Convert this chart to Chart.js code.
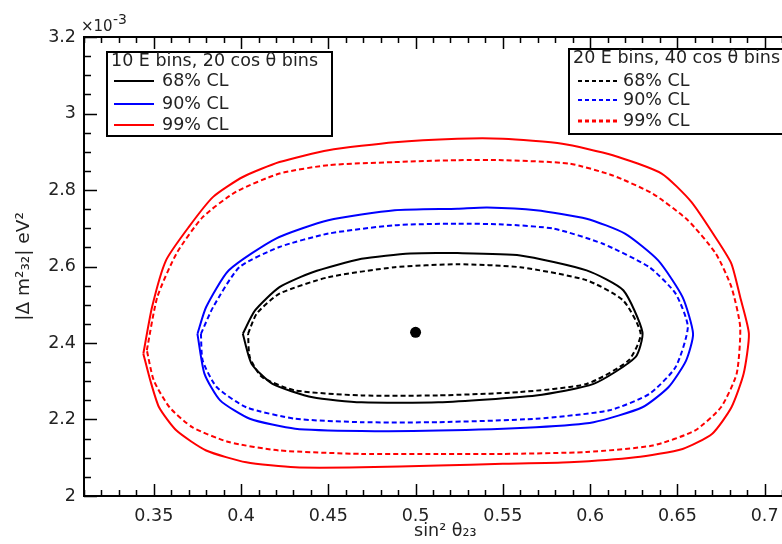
<!DOCTYPE html>
<html>
<head>
<meta charset="utf-8">
<script src="https://cdn.jsdelivr.net/npm/chart.js@4"></script>
<style>
  html, body { margin: 0; padding: 0; background: #fff; overflow: hidden; }
  .wrap { width: 812px; height: 544px; }
</style>
</head>
<body>
<div class="wrap"><canvas class="myChart" width="812" height="544"></canvas></div>
<script>
const clLabels = ["68% CL", "90% CL", "99% CL"];
const clColors = ["#000000", "#0000ff", "#ff0000"];
const binLabels = ["10 E bins, 20 cos θ bins", "20 E bins, 40 cos θ bins"];
const bestFit = [[0.5, 2.428]];

// 10 E bins, 20 cos theta bins (solid lines)
const coarse68 = [
  [0.401, 2.424], [0.408, 2.485], [0.422, 2.546], [0.441, 2.585], [0.469, 2.620],
  [0.497, 2.634], [0.524, 2.635], [0.560, 2.629], [0.598, 2.590], [0.619, 2.538],
  [0.630, 2.428], [0.626, 2.363], [0.602, 2.293], [0.569, 2.263], [0.513, 2.245],
  [0.469, 2.245], [0.441, 2.258], [0.418, 2.293], [0.406, 2.346]
];
const coarse90 = [
  [0.375, 2.424], [0.380, 2.494], [0.393, 2.590], [0.420, 2.673], [0.450, 2.721],
  [0.488, 2.747], [0.524, 2.751], [0.541, 2.754], [0.569, 2.747], [0.598, 2.725],
  [0.620, 2.686], [0.639, 2.616], [0.653, 2.520], [0.659, 2.424], [0.655, 2.354],
  [0.645, 2.285], [0.630, 2.232], [0.602, 2.193], [0.569, 2.180], [0.513, 2.171],
  [0.469, 2.170], [0.431, 2.176], [0.405, 2.202], [0.388, 2.250], [0.379, 2.320]
];
const coarse99 = [
  [0.344, 2.372], [0.349, 2.494], [0.357, 2.616], [0.370, 2.703], [0.384, 2.782],
  [0.401, 2.834], [0.422, 2.873], [0.450, 2.904], [0.488, 2.925], [0.524, 2.934],
  [0.550, 2.934], [0.584, 2.921], [0.613, 2.891], [0.641, 2.843], [0.658, 2.769],
  [0.673, 2.668], [0.681, 2.607], [0.686, 2.520], [0.691, 2.424], [0.688, 2.320],
  [0.681, 2.232], [0.670, 2.163], [0.653, 2.123], [0.626, 2.101], [0.588, 2.088],
  [0.550, 2.084], [0.513, 2.080], [0.469, 2.075], [0.431, 2.075], [0.403, 2.088],
  [0.380, 2.119], [0.363, 2.171], [0.353, 2.232], [0.348, 2.302]
];

// 20 E bins, 40 cos theta bins (dashed lines)
const fine68 = [
  [0.404, 2.424], [0.409, 2.477], [0.422, 2.529], [0.450, 2.572], [0.488, 2.598],
  [0.524, 2.606], [0.560, 2.598], [0.598, 2.564], [0.619, 2.511], [0.629, 2.424],
  [0.622, 2.354], [0.598, 2.293], [0.560, 2.272], [0.513, 2.263], [0.469, 2.263],
  [0.431, 2.276], [0.412, 2.311], [0.405, 2.363]
];
const fine90 = [
  [0.377, 2.424], [0.384, 2.494], [0.399, 2.598], [0.422, 2.651], [0.450, 2.686],
  [0.488, 2.708], [0.524, 2.712], [0.550, 2.710], [0.579, 2.699], [0.607, 2.660],
  [0.634, 2.598], [0.649, 2.529], [0.656, 2.442], [0.649, 2.337], [0.634, 2.267],
  [0.611, 2.224], [0.569, 2.202], [0.513, 2.193], [0.469, 2.193], [0.431, 2.202],
  [0.403, 2.232], [0.386, 2.285], [0.378, 2.354]
];
const fine99 = [
  [0.346, 2.381], [0.352, 2.520], [0.363, 2.634], [0.378, 2.729], [0.397, 2.795],
  [0.422, 2.843], [0.450, 2.865], [0.488, 2.873], [0.524, 2.878], [0.550, 2.878],
  [0.588, 2.869], [0.613, 2.838], [0.636, 2.790], [0.656, 2.721], [0.672, 2.634],
  [0.681, 2.546], [0.686, 2.442], [0.684, 2.320], [0.675, 2.232], [0.660, 2.171],
  [0.636, 2.132], [0.598, 2.115], [0.550, 2.110], [0.513, 2.110], [0.469, 2.110],
  [0.422, 2.119], [0.393, 2.141], [0.372, 2.180], [0.359, 2.232], [0.350, 2.302]
];

const FONT = "DejaVu Sans";
const TEXT = "#222";

function contour(pts, color, dashed) {
  const closed = pts.concat([pts[0]]);
  return {
    data: closed.map((p) => ({ x: p[0], y: p[1] })),
    showLine: true,
    borderColor: color,
    borderWidth: 2,
    borderDash: dashed ? [5, 3] : [],
    pointRadius: 0,
    fill: false,
    tension: 0.2,
  };
}

// inner ticks, frame, legends and exponent
const decor = {
  id: "decor",
  afterDraw(chart) {
    const ctx = chart.ctx;
    const a = chart.chartArea;
    const x = chart.scales.x;
    const y = chart.scales.y;
    ctx.save();
    ctx.strokeStyle = "#000";
    ctx.lineWidth = 2;
    ctx.beginPath();
    ctx.moveTo(a.right + 5, a.top);
    ctx.lineTo(a.left, a.top);
    ctx.lineTo(a.left, a.bottom);
    ctx.lineTo(a.right + 5, a.bottom);
    ctx.stroke();

    ctx.lineWidth = 1.5;
    ctx.beginPath();
    for (let i = 31; i <= 72; i++) {
      const px = Math.round(x.getPixelForValue(i / 100)) + 0.5;
      const len = i % 5 === 0 ? 12 : 6;
      ctx.moveTo(px, a.bottom); ctx.lineTo(px, a.bottom - len);
      ctx.moveTo(px, a.top); ctx.lineTo(px, a.top + len);
    }
    for (let i = 200; i <= 320; i += 5) {
      const py = Math.round(y.getPixelForValue(i / 100)) + 0.5;
      const len = i % 20 === 0 ? 13 : 7;
      ctx.moveTo(a.left, py); ctx.lineTo(a.left + len, py);
    }
    ctx.stroke();

    // exponent
    ctx.fillStyle = TEXT;
    ctx.textBaseline = "alphabetic";
    ctx.textAlign = "left";
    ctx.font = "15px " + FONT;
    ctx.fillText("×10", 81, 31);
    ctx.font = "14px " + FONT;
    ctx.fillText("-3", 113, 24);

    // legends
    drawLegend(ctx, { x0: 107, y0: 52, x1: 332, y1: 136, titleY: 61, rows: [81, 104, 125],
      sx0: 114, sx1: 154, tx: 162, title: binLabels[0], dashed: false });
    drawLegend(ctx, { x0: 569, y0: 49, x1: 808, y1: 134, titleY: 58, rows: [81, 100, 121],
      sx0: 578, sx1: 618, tx: 623, title: binLabels[1], dashed: true });
    ctx.restore();
  },
};

function drawLegend(ctx, o) {
  ctx.fillStyle = "#fff";
  ctx.fillRect(o.x0, o.y0, o.x1 - o.x0, o.y1 - o.y0);
  ctx.strokeStyle = "#000";
  ctx.lineWidth = 2;
  ctx.setLineDash([]);
  ctx.strokeRect(o.x0, o.y0, o.x1 - o.x0, o.y1 - o.y0);
  ctx.font = "17.5px " + FONT;
  ctx.fillStyle = TEXT;
  ctx.textBaseline = "middle";
  ctx.textAlign = "left";
  ctx.fillText(o.title, o.x0 + 4, o.titleY);
  for (let i = 0; i < clLabels.length; i++) {
    const ry = o.rows[i];
    ctx.strokeStyle = clColors[i];
    ctx.lineWidth = o.dashed && i === 2 ? 3 : 2;
    ctx.setLineDash(o.dashed ? [4, 3] : []);
    ctx.beginPath();
    ctx.moveTo(o.sx0, ry);
    ctx.lineTo(o.sx1, ry);
    ctx.stroke();
    ctx.setLineDash([]);
    ctx.fillStyle = TEXT;
    ctx.fillText(clLabels[i], o.tx, ry);
  }
}

const ctx = document.querySelector(".myChart");

new Chart(ctx, {
  type: "scatter",
  data: {
    datasets: [
      contour(coarse99, clColors[2], false),
      contour(fine99, clColors[2], true),
      contour(coarse90, clColors[1], false),
      contour(fine90, clColors[1], true),
      contour(coarse68, clColors[0], false),
      contour(fine68, clColors[0], true),
      {
        data: bestFit.map((p) => ({ x: p[0], y: p[1] })),
        pointRadius: 5.5,
        pointBackgroundColor: "#000",
        pointBorderWidth: 0,
      },
    ],
  },
  options: {
    responsive: false,
    animation: false,
    layout: { padding: { top: 37, left: 0, right: 0, bottom: 0 } },
    plugins: { legend: { display: false }, tooltip: { enabled: false } },
    scales: {
      x: {
        type: "linear",
        min: 0.31,
        max: 0.724,
        grid: { display: false, drawTicks: false },
        border: { display: false },
        ticks: {
          stepSize: 0.05,
          includeBounds: false,
          padding: 10,
          maxRotation: 0,
          autoSkip: false,
          color: TEXT,
          font: { family: FONT, size: 17.5 },
          callback: (v) => String(+v.toFixed(2)),
        },
        title: {
          display: true,
          text: "sin² θ₂₃",
          color: TEXT,
          font: { family: FONT, size: 17.5 },
          padding: { top: 0, bottom: 2 },
        },
        afterFit: (s) => { s.height = 48; },
      },
      y: {
        type: "linear",
        min: 2,
        max: 3.2,
        grid: { display: false, drawTicks: false },
        border: { display: false },
        ticks: {
          stepSize: 0.2,
          padding: 8,
          color: TEXT,
          font: { family: FONT, size: 17.5 },
          callback: (v) => String(+v.toFixed(1)),
        },
        title: {
          display: true,
          text: "|Δ m²₃₂| eV²",
          color: TEXT,
          font: { family: FONT, size: 18.5 },
          padding: { top: 13, bottom: 0 },
        },
        afterFit: (s) => { s.width = 84; },
      },
    },
  },
  plugins: [decor],
});
</script>
</body>
</html>
